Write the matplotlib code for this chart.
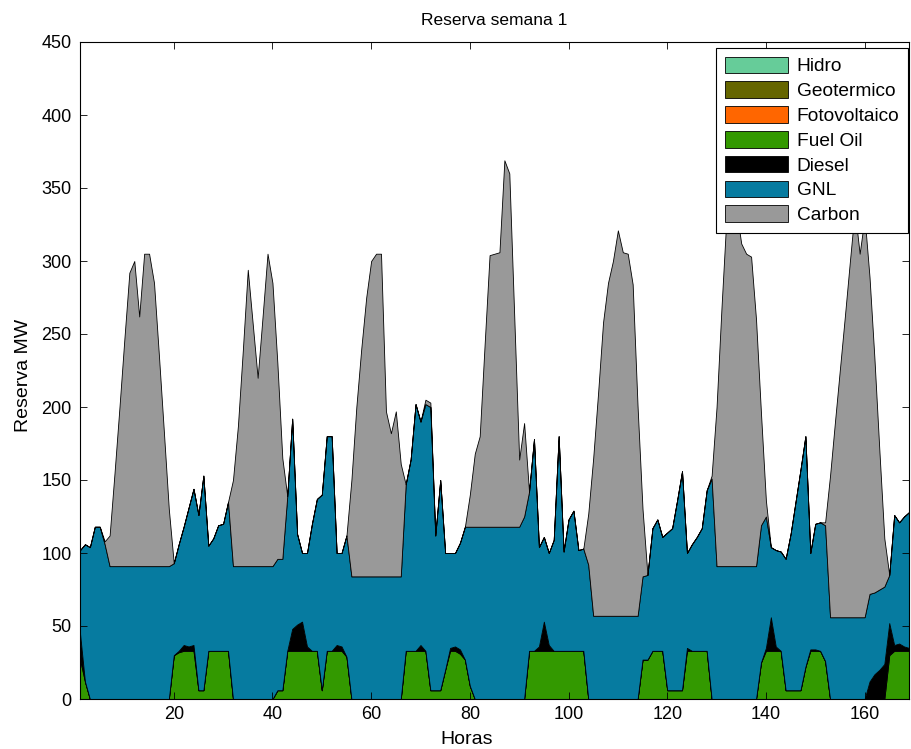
import matplotlib
matplotlib.use("Agg")
import matplotlib.pyplot as plt
import numpy as np

plt.rcParams['font.family'] = ['Liberation Sans', 'DejaVu Sans']

horas = list(range(1, 170))

hidro = [0] * 169
geotermico = [0] * 169
fotovoltaico = [0] * 169

fuel_oil = [27, 12, 0, 0, 0, 0, 0, 0, 0, 0, 0, 0, 0, 0, 0, 0, 0, 0, 0, 30,
            32, 33, 33, 33, 6, 6, 33, 33, 33, 33, 33, 0, 0, 0, 0, 0, 0, 0, 0, 0,
            6, 6, 33, 33, 33, 33, 33, 33, 33, 6, 33, 33, 33, 33, 29, 0, 0, 0, 0, 0,
            0, 0, 0, 0, 0, 0, 33, 33, 33, 33, 33, 6, 6, 6, 20, 33, 33, 31, 27, 9,
            0, 0, 0, 0, 0, 0, 0, 0, 0, 0, 0, 33, 33, 33, 33, 33, 33, 33, 33, 33,
            33, 33, 33, 0, 0, 0, 0, 0, 0, 0, 0, 0, 0, 0, 27, 27, 33, 33, 33, 6,
            6, 6, 6, 33, 33, 33, 33, 33, 0, 0, 0, 0, 0, 0, 0, 0, 0, 0, 25, 33,
            33, 33, 33, 6, 6, 6, 6, 22, 33, 33, 33, 26, 0, 0, 0, 0, 0, 0, 0, 0,
            0, 0, 0, 0, 30, 33, 33, 33, 33]

diesel = [18, 0, 0, 0, 0, 0, 0, 0, 0, 0, 0, 0, 0, 0, 0, 0, 0, 0, 0, 0,
          1, 4, 3, 4, 0, 0, 0, 0, 0, 0, 0, 0, 0, 0, 0, 0, 0, 0, 0, 0,
          0, 0, 0, 15, 18, 20, 3, 0, 0, 0, 0, 0, 4, 3, 0, 0, 0, 0, 0, 0,
          0, 0, 0, 0, 0, 0, 0, 0, 0, 4, 0, 0, 0, 0, 0, 2, 3, 3, 0, 0,
          0, 0, 0, 0, 0, 0, 0, 0, 0, 0, 0, 0, 0, 3, 20, 4, 0, 0, 0, 0,
          0, 0, 0, 0, 0, 0, 0, 0, 0, 0, 0, 0, 0, 0, 0, 0, 0, 0, 0, 0,
          0, 0, 0, 2, 0, 0, 0, 0, 0, 0, 0, 0, 0, 0, 0, 0, 0, 0, 0, 2,
          23, 3, 0, 0, 0, 0, 0, 0, 1, 1, 0, 0, 0, 0, 0, 0, 0, 0, 0, 0,
          12, 17, 20, 24, 22, 4, 5, 3, 2]

gnl = [57, 94, 104, 118, 118, 106, 91, 91, 91, 91, 91, 91, 91, 91, 91, 91, 91, 91, 91, 63,
       73, 81, 95, 107, 120, 147, 72, 77, 86, 87, 102, 91, 91, 91, 91, 91, 91, 91, 91, 91,
       90, 90, 106, 144, 62, 47, 64, 87, 104, 134, 147, 147, 63, 64, 83, 84, 84, 84, 84, 84,
       84, 84, 84, 84, 84, 84, 114, 131, 169, 153, 169, 194, 106, 144, 80, 65, 64, 73, 91, 109,
       118, 118, 118, 118, 118, 118, 118, 118, 118, 118, 125, 109, 145, 68, 58, 63, 76, 147, 68, 90,
       96, 69, 70, 92, 57, 57, 57, 57, 57, 57, 57, 57, 57, 57, 57, 58, 84, 90, 78, 108,
       111, 130, 150, 65, 73, 78, 84, 110, 151, 91, 91, 91, 91, 91, 91, 91, 91, 91, 94, 90,
       48, 66, 68, 90, 107, 129, 151, 158, 66, 86, 88, 93, 56, 56, 56, 56, 56, 56, 56, 56,
       60, 56, 55, 53, 33, 89, 83, 89, 93]

carbon = [0, 0, 0, 0, 0, 2, 21, 64, 109, 156, 201, 209, 171, 214, 214, 194, 144, 92, 39, 0,
          0, 0, 0, 0, 0, 0, 0, 0, 0, 0, 0, 59, 96, 148, 203, 166, 129, 171, 214, 194,
          134, 69, 0, 0, 0, 0, 0, 0, 0, 0, 0, 0, 0, 0, 0, 66, 116, 156, 191, 216,
          221, 221, 113, 98, 113, 77, 0, 0, 0, 0, 3, 3, 0, 0, 0, 0, 0, 0, 0, 22,
          50, 62, 125, 186, 187, 188, 251, 242, 144, 46, 64, 0, 0, 0, 0, 0, 0, 0, 0, 0,
          0, 0, 0, 35, 108, 153, 201, 228, 243, 264, 249, 248, 227, 143, 46, 0, 0, 0, 0, 0,
          0, 0, 0, 0, 0, 0, 0, 0, 2, 109, 177, 239, 254, 244, 221, 214, 212, 169, 77, 11,
          0, 0, 0, 0, 0, 0, 0, 0, 0, 0, 0, 2, 97, 134, 170, 206, 243, 279, 249, 274,
          217, 160, 95, 33, 0, 0, 0, 0, 0]

series = [hidro, geotermico, fotovoltaico, fuel_oil, diesel, gnl, carbon]
nombres = ['Hidro', 'Geotermico', 'Fotovoltaico', 'Fuel Oil', 'Diesel', 'GNL', 'Carbon']
colores = ['#66CC99', '#666600', '#FF6600', '#339900', '#000000', '#067BA0', '#999999']

fig = plt.figure(figsize=(9.11, 7.49), dpi=100)
ax = fig.add_axes([80 / 911, 50 / 749, 829 / 911, 657 / 749])

polys = ax.stackplot(horas, *series, colors=colores, labels=nombres,
                     edgecolor='black', linewidth=0.6)

ax.set_xlim(1, 169)
ax.set_ylim(0, 450)
ax.set_xticks(range(20, 161, 20))
ax.set_yticks(range(0, 451, 50))
ax.tick_params(direction='in', length=5, labelsize=13, top=True, right=True, width=0.6)
ax.tick_params(axis='y', pad=6)
ax.tick_params(axis='x', pad=5)
for s in ax.spines.values():
    s.set_linewidth(0.8)

ax.set_title('Reserva semana 1', fontsize=12.5, pad=12)
ax.set_xlabel('Horas', fontsize=14)
ax.set_ylabel('Reserva MW', fontsize=14)
ax.xaxis.set_label_coords((467 - 80) / 829, -(739 - 699) / 657)
ax.yaxis.set_label_coords(-(80 - 24) / 829, (699 - 375) / 657)
ax.xaxis.label.set_va('center')
ax.yaxis.label.set_va('center')

leg = ax.legend(loc='upper right', bbox_to_anchor=(908 / 911, 1 - 48 / 749),
                bbox_transform=fig.transFigure,
                fontsize=13.8, frameon=True, fancybox=False,
                framealpha=1, edgecolor='black', borderaxespad=0,
                handlelength=3.3, handleheight=0.95, labelspacing=0.31,
                borderpad=0.45, handletextpad=0.45)
leg.get_frame().set_linewidth(0.8)
leg.set_zorder(10)

fig.savefig('out.png', dpi=100)
